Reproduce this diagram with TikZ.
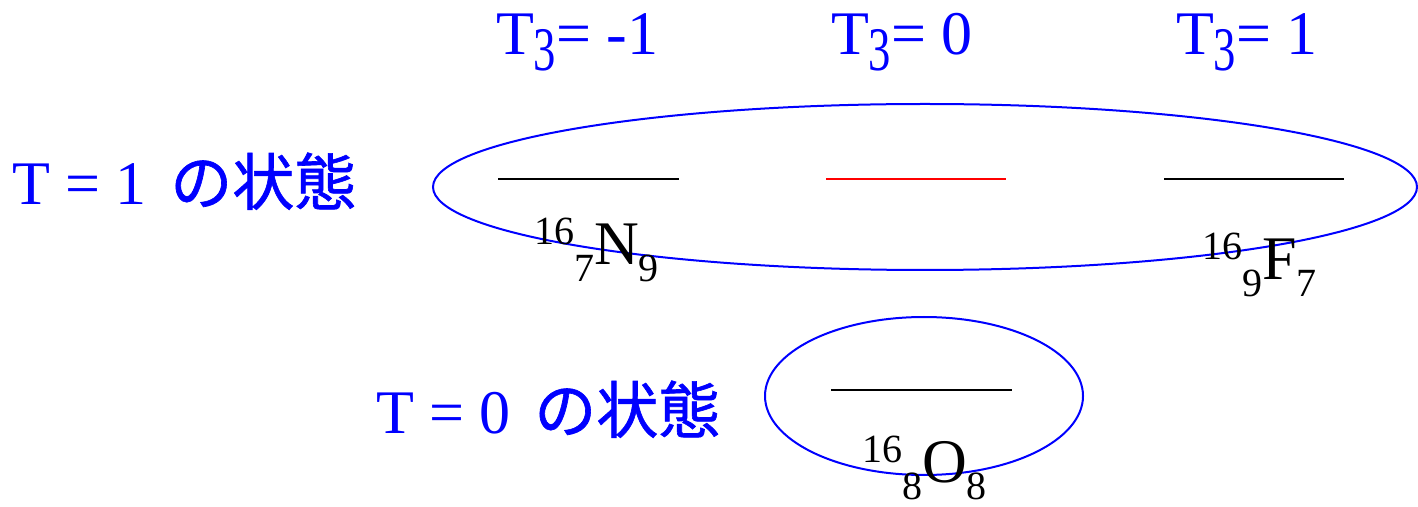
\documentclass[tikz,border=0pt]{standalone}
\usepackage{fontspec}
\setmainfont{Liberation Serif}
\newfontfamily\cjk{Noto Sans CJK JP}[FakeBold=1]
\usetikzlibrary{shapes.geometric}
\definecolor{pblue}{RGB}{0,0,255}
\definecolor{pred}{RGB}{255,0,0}
\newcommand{\bigf}{\fontsize{31}{31}\selectfont}
\newcommand{\smallf}{\fontsize{20}{20}\selectfont}
\newcommand{\tsub}{\raisebox{-8pt}{\scalebox{0.72}[1]{3}}}
\newcommand{\nuclide}[4]{\raisebox{10pt}{\smallf #1}\raisebox{-8.5pt}{\smallf #2}#3\raisebox{-8.5pt}{\smallf #4}}
\begin{document}
\begin{tikzpicture}[x=0.5pt,y=-0.5pt,
  lbl/.style={text=pblue,font=\bigf,anchor=base west,inner sep=0pt,outer sep=0pt},
  nuc/.style={text=black,font=\bigf,anchor=base west,inner sep=0pt,outer sep=0pt},
  ell/.style={draw=pblue,line width=1pt,ellipse,inner sep=0pt},
  lvl/.style={line width=1pt}]
\useasboundingbox (0,0) rectangle (1418,507);
% T3 headers
\node[lbl] (h1) at (496,55) {T\tsub= -1};
\node[lbl] (h2) at (831,55) {T\tsub= 0};
\node[lbl] (h3) at (1176,55) {T\tsub= 1};
% state labels
\node[lbl] (s1) at (12,205) {T = 1 \hspace{4pt}{\cjk の状態}};
\node[lbl] (s0) at (376,433) {T = 0 \hspace{4pt}{\cjk の状態}};
% ellipses
\node[ell,minimum width=492pt,minimum height=83pt] (e1) at (925,187) {};
\node[ell,minimum width=159pt,minimum height=79pt] (e0) at (924,396) {};
% levels
\coordinate (a1) at (498,179); \coordinate (a2) at (679,179);
\coordinate (b1) at (826,179); \coordinate (b2) at (1006,179);
\coordinate (c1) at (1164,179); \coordinate (c2) at (1344,179);
\coordinate (d1) at (831,390); \coordinate (d2) at (1012,390);
\draw[lvl] (a1) -- (a2);
\draw[lvl,draw=pred] (b1) -- (b2);
\draw[lvl] (c1) -- (c2);
\draw[lvl] (d1) -- (d2);
% nuclides
\node[nuc] (n) at (534,265) {\nuclide{16}{7}{N}{9}};
\node[nuc] (f) at (1202,280) {\nuclide{16}{9}{F}{7}};
\node[nuc] (o) at (862,482) {\nuclide{16}{8}{O}{8}};
\end{tikzpicture}
\end{document}
